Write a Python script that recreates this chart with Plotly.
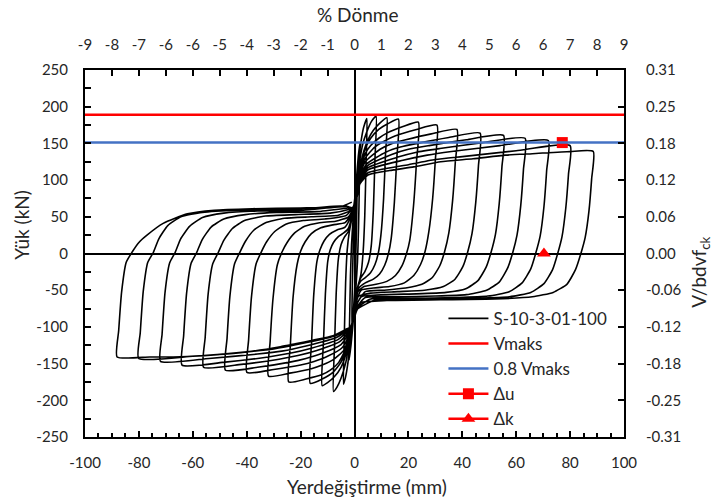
import plotly.graph_objects as go

# Hysteresis loops of specimen S-10-3-01-100, one list of (displacement mm, load kN) per cycle
c01 = [(0, 0), (0.3, 40), (0.6, 75), (1.0, 105), (0.85, 60), (0.6, 15), (0.35, -20), (0.05, -50), (-0.4, -78),
       (-1.0, -100), (-0.85, -55), (-0.6, -10), (-0.35, 25), (-0.1, 48)]
c02 = [(0.2, 68), (0.8, 105), (1.4, 132), (2.0, 150), (1.8, 95), (1.5, 35), (1.1, -12), (0.6, -42), (0.1, -65),
       (-0.6, -98), (-1.3, -125), (-2.0, -145), (-1.8, -88), (-1.5, -30), (-1.1, 12), (-0.6, 42), (-0.1, 60)]
c03 = [(0.5, 82), (1.4, 120), (2.4, 152), (3.4, 172), (4.6, 184), (4.3, 125), (3.8, 50), (3.2, 2), (2.4, -28),
       (1.3, -45), (0.4, -63), (-0.4, -85), (-1.4, -115), (-2.4, -148), (-3.3, -168), (-4.1, -178), (-3.8, -115),
       (-3.3, -40), (-2.7, 5), (-1.9, 30), (-1, 47), (-0.2, 63)]
c04 = [(0.5, 85), (1.5, 115), (3, 148), (4.5, 165), (6.3, 180), (8, 187), (7.6, 130), (7, 60), (6.2, 10), (5.2, -12),
       (3.8, -25), (2.2, -34), (0.9, -50), (0.1, -70), (-0.7, -92), (-1.8, -118), (-3.2, -148), (-5, -170),
       (-6.5, -182), (-7.8, -188), (-7.4, -125), (-6.8, -55), (-6, -8), (-5, 12), (-3.8, 22), (-2.3, 30), (-1, 48)]
c05 = [(-0.2, 66), (0.8, 95), (2, 118), (3.5, 140), (5, 155), (7, 168), (9.5, 178), (12, 185), (11.5, 135),
       (10.8, 75), (9.8, 25), (8.8, 0), (7.6, -15), (6, -26), (4, -33), (2.2, -38), (1, -48), (0.2, -66),
       (-0.6, -88), (-1.8, -110), (-3, -135), (-5, -155), (-7.5, -168), (-10, -176), (-12, -180), (-11.5, -120),
       (-10.8, -55), (-9.9, -10), (-9, 5), (-7.8, 15), (-6, 23), (-4, 28), (-2.3, 34), (-1, 50)]
c06 = [(-0.2, 66), (1, 95), (2, 115), (4, 143), (6, 157), (9, 169), (12.5, 177), (16.3, 183), (15.7, 130),
       (14.8, 70), (13.6, 20), (12.6, 0), (11.2, -16), (9.3, -28), (7, -35), (4, -40), (1.6, -47), (0.2, -68),
       (-0.6, -90), (-1.8, -110), (-3, -130), (-5, -148), (-8, -162), (-12, -171), (-16.4, -177), (-15.9, -120),
       (-15.1, -55), (-13.9, -10), (-12.8, 5), (-11.3, 17), (-9.3, 26), (-6.5, 32), (-3.5, 36), (-1.4, 50)]
c07 = [(-0.2, 66), (1, 93), (2, 112), (4, 136), (6, 147), (9, 157), (12, 164), (18, 173), (23.7, 179), (23, 125),
       (21.9, 65), (20.5, 18), (19.3, 0), (17.6, -17), (15.2, -30), (12, -38), (8, -42), (3.5, -45), (1.3, -52),
       (0.2, -70), (-0.7, -92), (-2, -112), (-3.5, -132), (-6, -149), (-9, -159), (-12, -165), (-18, -171),
       (-24.4, -175), (-23.8, -125), (-22.8, -60), (-21.3, -15), (-20, 3), (-18.3, 16), (-16, 27), (-12.5, 35),
       (-8, 39), (-3.5, 42), (-1.2, 55)]
c08 = [(-0.2, 66), (1, 92), (2, 110), (4, 130), (7.5, 145), (11, 153), (15, 160), (23, 169), (30.6, 175),
       (30, 128), (29, 75), (27.6, 30), (26.2, 3), (24.5, -15), (22, -30), (18.5, -40), (13, -45), (7, -47),
       (2.5, -50), (0.3, -71), (-0.7, -93), (-2, -113), (-4, -132), (-8, -145), (-12, -152), (-16, -157),
       (-24, -163), (-31.9, -167), (-31.3, -120), (-30.2, -60), (-28.6, -15), (-26.9, 2), (-25, 15), (-22.2, 28),
       (-18.5, 37), (-13, 42), (-7, 44), (-2.2, 50)]
c09 = [(-0.3, 65), (1, 90), (2, 107), (4, 125), (9.5, 142), (14, 150), (19, 155), (28.5, 163), (38, 169),
       (37.4, 124), (36.4, 72), (35, 28), (33.4, 2), (31.6, -17), (28.8, -33), (25, -42), (19, -47), (11, -50),
       (4, -52), (0.4, -72), (-0.8, -94), (-2.2, -112), (-4.5, -128), (-10, -140), (-15, -147), (-20, -152),
       (-30, -158), (-39.9, -162), (-39.3, -118), (-38.2, -58), (-36.5, -14), (-34.6, 2), (-32.6, 16),
       (-29.6, 30), (-25.5, 40), (-19, 45), (-11, 47), (-3, 52)]
c10 = [(-0.3, 65), (1, 88), (2, 105), (4.5, 122), (11.6, 138), (17, 145), (23.3, 150), (35, 158), (46.6, 164),
       (46, 120), (45, 70), (43.6, 27), (42, 2), (40.2, -18), (37.3, -35), (33, -45), (26, -50), (16, -52),
       (6, -54), (1.2, -59), (0.3, -73), (-0.9, -95), (-2.4, -110), (-5, -124), (-12, -136), (-18, -143),
       (-24, -148), (-36, -155), (-47.9, -159), (-47.3, -116), (-46.2, -57), (-44.5, -14), (-42.5, 2),
       (-40.4, 17), (-37.3, 32), (-33, 42), (-26, 48), (-16, 50), (-6, 52), (-1.8, 58)]
c11 = [(-0.3, 64), (1, 86), (2, 103), (5, 120), (13.8, 135), (20, 142), (27.7, 147), (41.5, 155), (55.3, 161),
       (54.7, 118), (53.7, 68), (52.3, 26), (50.7, 2), (48.8, -19), (45.8, -37), (41.3, -48), (34, -53),
       (23, -55), (11, -56), (2.5, -59), (0.4, -74), (-1, -96), (-2.6, -108), (-5.5, -120), (-14, -132),
       (-21, -139), (-28, -144), (-42, -151), (-56, -155), (-55.4, -114), (-54.3, -55), (-52.6, -14),
       (-50.6, 1), (-48.5, 18), (-45.3, 34), (-40.8, 45), (-33, 51), (-22, 53), (-9, 55), (-2.2, 60)]
c12 = [(-0.3, 63), (1, 84), (2, 101), (5, 117), (15.8, 131), (23, 138), (31.7, 143), (47.5, 151), (63.3, 157),
       (62.7, 115), (61.7, 66), (60.3, 25), (58.7, 1), (56.8, -20), (53.7, -39), (49, -50), (41.5, -56),
       (30, -58), (16, -59), (4, -60), (0.5, -75), (-1, -97), (-2.8, -106), (-6, -117), (-16, -129),
       (-24, -136), (-32, -141), (-48, -148), (-64, -152), (-63.4, -112), (-62.3, -54), (-60.6, -13),
       (-58.6, 1), (-56.5, 19), (-53.2, 36), (-48.5, 47), (-40.5, 53), (-29, 56), (-14, 57), (-2.5, 62)]
c13 = [(-0.3, 63), (1, 82), (2, 99), (5, 114), (18, 127), (27, 134), (36, 139), (54, 147), (71.9, 154),
       (71.3, 113), (70.3, 64), (68.9, 24), (67.3, 1), (65.4, -21), (62.2, -40), (57.4, -52), (49.5, -58),
       (38, -60), (21, -61), (6, -62), (0.6, -76), (-1, -98), (-3, -105), (-6.5, -114), (-18, -126),
       (-27, -133), (-36, -137), (-54, -143), (-72, -147), (-71.4, -110), (-70.3, -53), (-68.6, -13),
       (-66.6, 1), (-64.5, 20), (-61.2, 37), (-56.4, 49), (-48.5, 55), (-36, 58), (-19, 59), (-3, 64)]
c14 = [(-0.3, 62), (1, 80), (2, 97), (5, 110), (20, 121), (30, 128), (40, 132), (60, 140), (80, 147),
       (79.4, 108), (78.4, 62), (77, 23), (75.4, 0), (73.5, -22), (70.3, -41), (65.4, -53), (57.5, -59),
       (45, -61), (26, -62), (8, -63), (0.7, -77), (-1.1, -99), (-3, -104), (-7, -112), (-20, -123),
       (-30, -130), (-40, -134), (-60, -140), (-80.1, -143), (-79.5, -108), (-78.4, -52), (-76.7, -12),
       (-74.7, 1), (-72.6, 20), (-69.3, 38), (-64.4, 50), (-56.5, 56), (-43, 59), (-23, 60), (-3.5, 65)]
c15 = [(-0.3, 62), (1, 78), (2, 95), (5, 107), (13, 113), (22, 118), (32, 125), (44, 129), (56, 134), (66, 136),
       (80, 139), (88.6, 139), (88, 102), (87, 58), (85.6, 22), (84, 0), (82, -22), (78.8, -42), (73.7, -53),
       (66, -59), (52, -62), (32, -63), (12, -64), (2.5, -67), (0.8, -78), (-1.2, -100), (-3, -103), (-8, -112),
       (-15.2, -118), (-22, -123), (-27.5, -127), (-39.9, -134), (-52.3, -138), (-64.6, -140.6), (-76, -141),
       (-88.1, -141), (-87.5, -105), (-86.4, -52), (-84.7, -12), (-82.5, 2), (-80, 15), (-77, 25), (-71, 41),
       (-62, 54), (-52, 59), (-38, 61), (-20, 62), (-5, 64), (-1, 70)]

cycles = [c01, c02, c03, c04, c05, c06, c07, c08, c09, c10, c11, c12, c13, c14, c15]

# Capacity levels and ductility points
v_max = 188.9
v_80 = 0.8 * v_max
delta_u = (77.1, v_80)
delta_k = (70.3, 0.0)

# Axis tick labels
disp_ticks = [-100, -80, -60, -40, -20, 0, 20, 40, 60, 80, 100]
load_ticks = [-250, -200, -150, -100, -50, 0, 50, 100, 150, 200, 250]
rot_ticks = [-100, -90, -80, -70, -60, -50, -40, -30, -20, -10, 0, 10, 20, 30, 40, 50, 60, 70, 80, 90, 100]
rot_labels = ["-9", "-8", "-7", "-6", "-6", "-5", "-4", "-3", "-2", "-1", "0",
              "1", "2", "3", "4", "5", "6", "6", "7", "8", "9"]
norm_labels = ["-0.31", "-0.25", "-0.18", "-0.12", "-0.06", "0.00", "0.06", "0.12", "0.18", "0.25", "0.31"]

x_all, y_all = [], []
for cyc in cycles:
    for dx, ld in cyc:
        x_all.append(dx)
        y_all.append(ld)

FONT = "Lato"
TXT = "#262626"
TICK_SIZE = 15
TITLE_SIZE = 19

fig = go.Figure()
fig.add_trace(go.Scatter(x=x_all, y=y_all, mode="lines", name="S-10-3-01-100",
                         line=dict(color="black", width=1.6, shape="spline", smoothing=0.5)))
fig.add_trace(go.Scatter(x=[-100, 100], y=[v_max, v_max], mode="lines", name="Vmaks",
                         line=dict(color="#FF0000", width=2.5), xaxis="x2", yaxis="y2"))
fig.add_trace(go.Scatter(x=[-100, 100], y=[v_80, v_80], mode="lines", name="0.8 Vmaks",
                         line=dict(color="#4472C4", width=2.5), xaxis="x2", yaxis="y2"))
fig.add_trace(go.Scatter(x=[delta_u[0]], y=[delta_u[1]], mode="lines+markers", name="Δu",
                         line=dict(color="#FF0000", width=2.5),
                         marker=dict(symbol="square", size=11, color="#FF0000")))
fig.add_trace(go.Scatter(x=[delta_k[0]], y=[delta_k[1]], mode="lines+markers", name="Δk",
                         line=dict(color="#FF0000", width=2.5),
                         marker=dict(symbol="triangle-up", size=12, color="#FF0000")))

axis_common = dict(showgrid=False, showline=True, linecolor="black", linewidth=2,
                   tickcolor="black", tickwidth=1.5, ticks="inside", ticklen=6,
                   tickfont=dict(family=FONT, size=TICK_SIZE, color=TXT))

# Axis titles placed as paper-anchored texts
title_font = dict(family=FONT, size=TITLE_SIZE, color=TXT)
annotations = [
    dict(text="Yerdeğiştirme (mm)", x=0.523, y=-0.136, xref="paper", yref="paper",
         showarrow=False, font=title_font, xanchor="center", yanchor="middle"),
    dict(text="% Dönme", x=0.505, y=1.150, xref="paper", yref="paper",
         showarrow=False, font=title_font, xanchor="center", yanchor="middle"),
    dict(text="Yük (kN)", x=-0.117, y=0.578, xref="paper", yref="paper", textangle=-90,
         showarrow=False, font=title_font, xanchor="center", yanchor="middle"),
    dict(text="V/bdvf<sub>ck</sub>", x=1.141, y=0.45, xref="paper", yref="paper", textangle=-90,
         showarrow=False, font=title_font, xanchor="center", yanchor="middle"),
]

fig.update_layout(
    width=714, height=503,
    margin=dict(l=85, r=90, t=70, b=66),
    paper_bgcolor="white", plot_bgcolor="white",
    font=dict(family=FONT, size=TICK_SIZE, color=TXT),
    showlegend=True,
    legend=dict(x=0.665, y=0.371, xanchor="left", yanchor="top", bgcolor="rgba(0,0,0,0)",
                itemwidth=40, font=dict(family=FONT, size=17, color=TXT), tracegroupgap=0),
    annotations=annotations,
    xaxis=dict(range=[-100, 100], tickmode="array", tickvals=disp_ticks,
               ticktext=[str(v) for v in disp_ticks],
               minor=dict(tickvals=list(range(-100, 101, 5)), ticks="inside", ticklen=4,
                          tickcolor="black", tickwidth=1.5),
               zeroline=True, zerolinecolor="black", zerolinewidth=2,
               ticklabelstandoff=11, **axis_common),
    yaxis=dict(range=[-250, 250], tickmode="array", tickvals=load_ticks,
               ticktext=[str(v) for v in load_ticks],
               minor=dict(tickvals=list(range(-250, 251, 25)), ticks="inside", ticklen=6,
                          tickcolor="black", tickwidth=1.5),
               zeroline=True, zerolinecolor="black", zerolinewidth=2,
               ticklabelstandoff=12, **axis_common),
    xaxis2=dict(range=[-100, 100], overlaying="x", side="top", anchor="y2", tickmode="array",
                tickvals=rot_ticks, ticktext=rot_labels, zeroline=False,
                ticklabelstandoff=12, **axis_common),
    yaxis2=dict(range=[-250, 250], overlaying="y", side="right", anchor="x2", tickmode="array",
                tickvals=load_ticks, ticktext=norm_labels, zeroline=False,
                ticklabelstandoff=17, **axis_common),
)

fig.write_html("out.html", config={"displayModeBar": False})
